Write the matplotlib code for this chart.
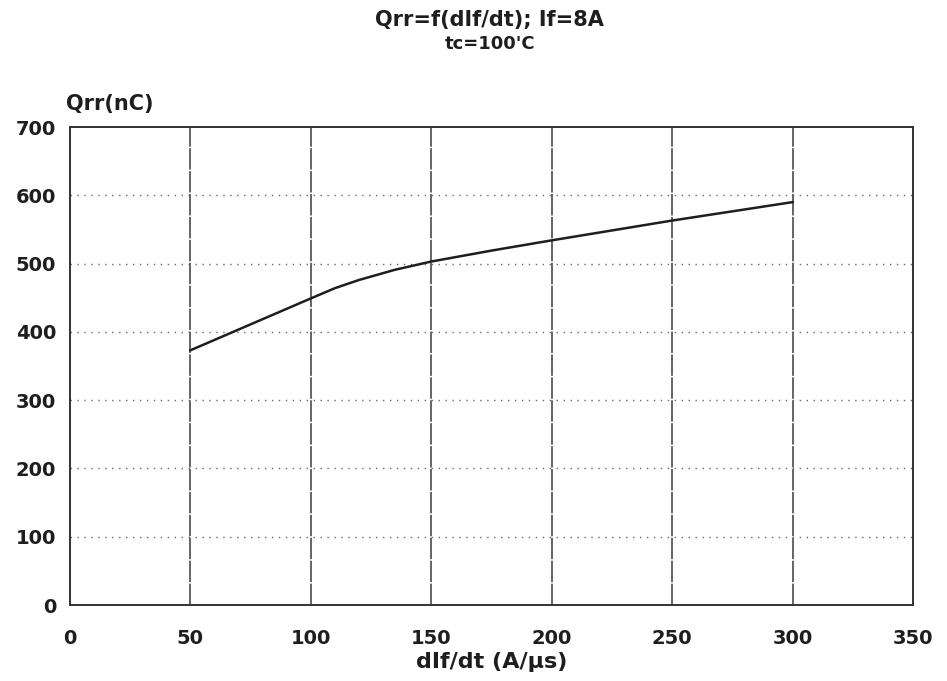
import matplotlib
matplotlib.use("Agg")
import matplotlib.pyplot as plt

# data
didt = [50, 75, 100, 110, 120, 135, 150, 175, 200, 250, 300]
qrr = [373, 411, 449, 464, 476, 491, 503, 519, 534, 563, 590]

xticks = [0, 50, 100, 150, 200, 250, 300, 350]
yticks = [0, 100, 200, 300, 400, 500, 600, 700]

plt.rcParams['font.family'] = ['DejaVu Sans']
ink = '#1e1e1e'

fig = plt.figure(figsize=(9.47, 6.81), dpi=100)
ax = fig.add_axes([0.0739, 0.1116, 0.8902, 0.7019])

ax.plot(didt, qrr, color=ink, lw=1.8, zorder=3)

ax.set_xlim(0, 350)
ax.set_ylim(0, 700)
ax.set_xticks(xticks)
ax.set_yticks(yticks)
ax.set_xticklabels([str(t) for t in xticks], fontsize=14, fontweight='bold', color=ink)
ax.set_yticklabels([str(t) for t in yticks], fontsize=14, fontweight='bold', color=ink)
ax.tick_params(axis='x', length=0, pad=17)
ax.tick_params(axis='y', length=0, pad=10)

for x in xticks[1:-1]:
    ax.axvline(x, color='#3a3a3a', lw=1.1, ls=(0, (14, 1)), zorder=1)
for y in yticks[1:-1]:
    ax.axhline(y, color='#666666', lw=1.0, ls=(0, (1, 4)), zorder=1)

for s in ax.spines.values():
    s.set_color('#333333')
    s.set_linewidth(1.4)

ax.set_xlabel('dIf/dt (A/µs)', fontsize=16, fontweight='bold', color=ink, labelpad=3)
fig.text(0.070, 0.848, 'Qrr(nC)', fontsize=15, fontweight='bold', color=ink, ha='left', va='center')
fig.text(0.517, 0.970, 'Qrr=f(dIf/dt); If=8A', fontsize=15, fontweight='bold', color=ink, ha='center', va='center')
fig.text(0.517, 0.935, 'tc=100\'C', fontsize=13, fontweight='bold', color=ink, ha='center', va='center')

fig.savefig('out.png', dpi=100)
